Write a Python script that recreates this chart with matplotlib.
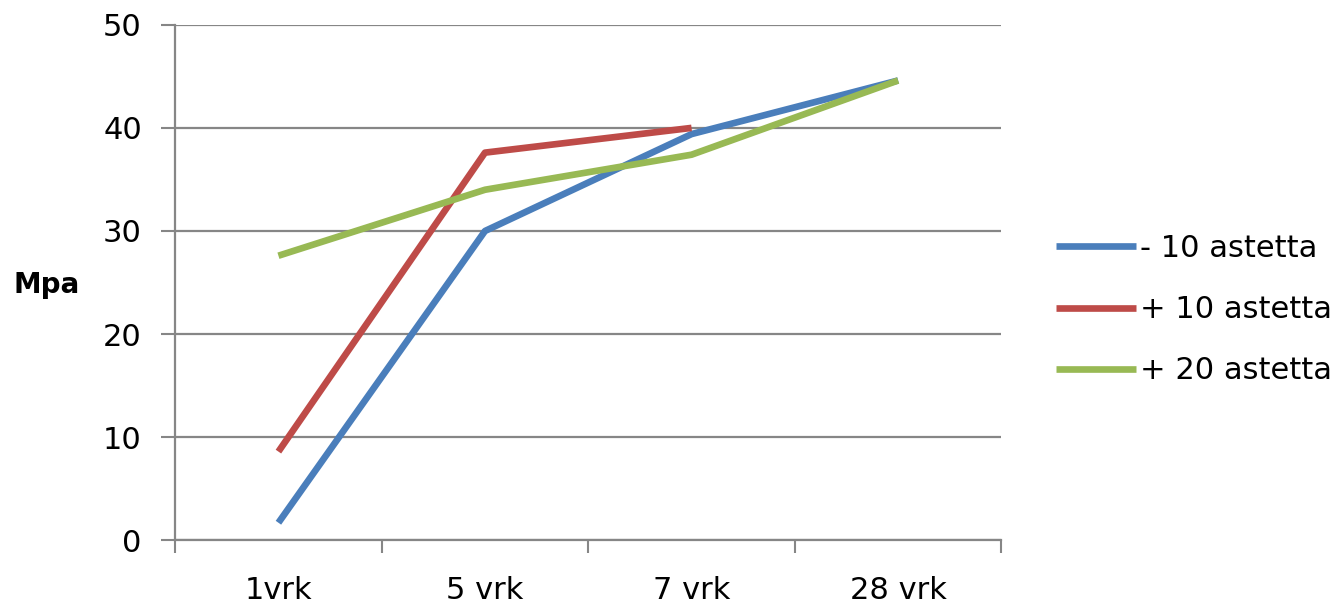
import numpy as np
import matplotlib
matplotlib.use("Agg")
import matplotlib.pyplot as plt

# data
categories = ['1vrk', '5 vrk', '7 vrk', '28 vrk']
minus10 = [1.7, 30.0, 39.4, 44.6]
plus10 = [8.6, 37.6, 40.0, np.nan]
plus20 = [27.6, 34.0, 37.4, 44.6]
series_labels = ['- 10 astetta', '+ 10 astetta', '+ 20 astetta']
series_colors = ['#4A7EBB', '#BE4B48', '#98B954']

GRID = '#868686'

fig = plt.figure(figsize=(13.37, 6.05), dpi=100)
ax = fig.add_axes([0.131, 0.107, 0.618, 0.852])

x = np.arange(len(categories))
for vals, lab, col in zip([minus10, plus10, plus20], series_labels, series_colors):
    ax.plot(x, vals, color=col, linewidth=4.8, label=lab, solid_capstyle='butt')

ax.set_xlim(-0.5, len(categories) - 0.5)
ax.set_ylim(0, 50)
ax.set_yticks(range(0, 51, 10))

# boundaries between categories get the tick marks, labels sit at centres
ax.set_xticks(np.arange(-0.5, len(categories), 1.0))
ax.set_xticklabels([])
ax.set_xticks(x, minor=True)
ax.set_xticklabels(categories, minor=True)
ax.tick_params(axis='x', which='major', length=9, width=1.5, color=GRID)
ax.tick_params(axis='x', which='minor', length=0, pad=26, labelsize=22)
ax.tick_params(axis='y', length=10, width=1.5, color=GRID, labelsize=22, pad=14)

ax.grid(axis='y', color=GRID, linewidth=1.6)
ax.set_axisbelow(True)
for s in ['top', 'right']:
    ax.spines[s].set_visible(False)
for s in ['left', 'bottom']:
    ax.spines[s].set_color(GRID)
    ax.spines[s].set_linewidth(1.6)

fig.text(0.035, 0.529, 'Mpa', fontsize=20, fontweight='bold', ha='center', va='center')

fig.legend(loc='center left', bbox_to_anchor=(0.79, 0.488), frameon=False,
           fontsize=22, handlelength=2.6, handletextpad=0.15, labelspacing=1.05,
           borderpad=0, borderaxespad=0)

fig.savefig('out.png', dpi=100)
